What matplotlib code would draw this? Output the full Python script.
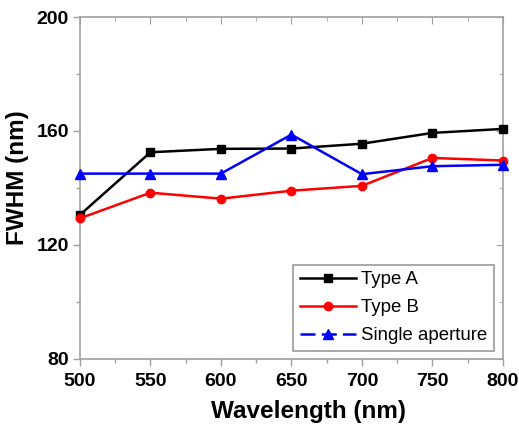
from matplotlib import pyplot as plt
from matplotlib.lines import Line2D
from matplotlib.ticker import MultipleLocator

plt.rcParams['font.family'] = ['Liberation Sans', 'DejaVu Sans']

# wavelength (nm) and measured FWHM (nm)
wavelength = [500, 550, 600, 650, 700, 750, 800]
type_a = [130.5, 152.5, 153.7, 153.8, 155.5, 159.3, 160.7]
type_b = [129.3, 138.3, 136.2, 139.0, 140.7, 150.5, 149.6]
single = [145.0, 145.0, 145.0, 158.7, 144.8, 147.6, 148.1]

fig = plt.figure(figsize=(5.19, 4.25), dpi=100)
ax = fig.add_axes([0.154, 0.156, 0.815, 0.804])

ax.plot(wavelength, type_a, color='black', lw=1.8, marker='s', ms=5.5, clip_on=False, zorder=3)
ax.plot(wavelength, type_b, color='red', lw=1.8, marker='o', ms=6, clip_on=False, zorder=3)
ax.plot(wavelength, single, color='blue', lw=1.8, marker='^', ms=7, clip_on=False, zorder=3)

ax.set_xlim(500, 800)
ax.set_ylim(80, 200)
ax.xaxis.set_major_locator(MultipleLocator(50))
ax.xaxis.set_minor_locator(MultipleLocator(25))
ax.yaxis.set_major_locator(MultipleLocator(40))
ax.yaxis.set_minor_locator(MultipleLocator(20))

for s in ax.spines.values():
    s.set_color('#a0a0a0')
    s.set_linewidth(1.2)

ax.tick_params(which='both', direction='out', color='#a0a0a0', width=1)
ax.tick_params(which='major', length=5)
ax.tick_params(which='minor', length=3)
ax.tick_params(axis='x', labelsize=14, pad=5)
ax.tick_params(axis='y', labelsize=14, pad=3)
for lab in ax.get_xticklabels() + ax.get_yticklabels():
    lab.set_fontweight('bold')

# mirrored ticks pointing inward on top and right
top = ax.secondary_xaxis('top')
top.xaxis.set_major_locator(MultipleLocator(50))
top.xaxis.set_minor_locator(MultipleLocator(25))
top.tick_params(which='both', direction='in', color='#a0a0a0', labeltop=False)
top.tick_params(which='major', length=5)
top.tick_params(which='minor', length=3)
top.spines['top'].set_visible(False)
right = ax.secondary_yaxis('right')
right.yaxis.set_major_locator(MultipleLocator(40))
right.yaxis.set_minor_locator(MultipleLocator(20))
right.tick_params(which='both', direction='in', color='#a0a0a0', labelright=False)
right.tick_params(which='major', length=5)
right.tick_params(which='minor', length=3)
right.spines['right'].set_visible(False)

ax.set_xlabel('Wavelength (nm)', fontsize=17.5, fontweight='bold', va='center')
ax.set_ylabel('FWHM (nm)', fontsize=17.5, fontweight='bold', va='center')
ax.xaxis.set_label_coords(0.541, -0.155)
ax.yaxis.set_label_coords(-0.147, 0.53)

handles = [
    Line2D([], [], color='black', lw=1.8, marker='s', ms=5.5),
    Line2D([], [], color='red', lw=1.8, marker='o', ms=6),
    Line2D([], [], color='blue', lw=1.8, marker='^', ms=7, dashes=(6, 2.5)),
]
leg = ax.legend(handles, ['Type A', 'Type B', 'Single aperture'],
                loc='lower right', bbox_to_anchor=(0.979, 0.0225),
                borderaxespad=0, fontsize=13.4, handlelength=3.0,
                handletextpad=0.3, labelspacing=0.6, borderpad=0.35,
                frameon=True, fancybox=False, edgecolor='#808080')
leg.get_frame().set_linewidth(1.2)

fig.savefig('out.png', dpi=100)
